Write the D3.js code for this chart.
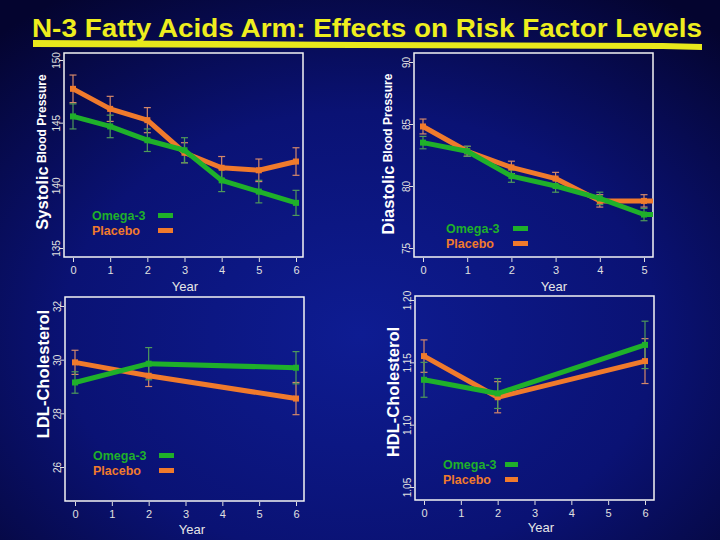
<!DOCTYPE html>
<html>
<head>
<meta charset="utf-8">
<script src="https://cdn.jsdelivr.net/npm/d3@7"></script>
<style>
  body { margin: 0; background: #03032e; }
  svg { display: block; font-family: "Liberation Sans", Arial, sans-serif; }
</style>
</head>
<body>
<div id="container"></div>
<script>
// values
var titleText = "N-3 Fatty Acids Arm: Effects on Risk Factor Levels";
var seriesNames = ["Omega-3", "Placebo"];

// systolic blood pressure
var sbpYears = [0, 1, 2, 3, 4, 5, 6];
var sbpOmega = [145.5, 144.7, 143.6, 142.8, 140.4, 139.5, 138.6];
var sbpOmegaErr = [1.0, 0.9, 0.9, 1.0, 0.9, 0.9, 1.0];
var sbpPlacebo = [147.7, 146.1, 145.2, 142.6, 141.4, 141.2, 141.9];
var sbpPlaceboErr = [1.1, 1.0, 1.0, 0.8, 0.9, 0.9, 1.1];
var sbpTicks = [135, 140, 145, 150];

// diastolic blood pressure (lines run on flat to the frame edge)
var dbpYears = [0, 1, 2, 3, 4, 5, 5.25];
var dbpOmega = [83.5, 82.8, 80.8, 80.0, 79.0, 77.7, 77.7];
var dbpOmegaErr = [0.5, 0.4, 0.5, 0.5, 0.5, 0.5, null];
var dbpPlacebo = [84.8, 82.8, 81.5, 80.6, 78.8, 78.8, 78.8];
var dbpPlaceboErr = [0.6, 0.4, 0.5, 0.5, 0.5, 0.5, null];
var dbpTicks = [75, 80, 85, 90];

// LDL cholesterol
var ldlYears = [0, 2, 6];
var ldlOmega = [29.15, 29.85, 29.7];
var ldlOmegaErr = [0.4, 0.6, 0.6];
var ldlPlacebo = [29.9, 29.4, 28.55];
var ldlPlaceboErr = [0.45, 0.4, 0.6];
var ldlTicks = [26, 28, 30, 32];

// HDL cholesterol
var hdlYears = [0, 2, 6];
var hdlOmega = [1.136, 1.125, 1.164];
var hdlOmegaErr = [0.014, 0.012, 0.019];
var hdlPlacebo = [1.155, 1.122, 1.151];
var hdlPlaceboErr = [0.013, 0.0125, 0.018];
var hdlTicks = [1.05, 1.10, 1.15, 1.20];

var green = "#1fb02a", orange = "#f07a2c";
var greenBar = "#4f9a5a", orangeBar = "#d4886a";

var svg = d3.select("div#container")
    .append("svg")
    .attr("width", 720)
    .attr("height", 540);

var defs = svg.append("defs");
var grad = defs.append("radialGradient")
    .attr("id", "bg")
    .attr("cx", "50%").attr("cy", "62%").attr("r", "75%");
grad.append("stop").attr("offset", "0%").attr("stop-color", "#0e1c92");
grad.append("stop").attr("offset", "55%").attr("stop-color", "#0a1274");
grad.append("stop").attr("offset", "100%").attr("stop-color", "#04042f");

svg.append("rect")
    .attr("width", 720).attr("height", 540)
    .attr("fill", "url(#bg)");

// title + brush underline
svg.append("text")
    .attr("x", 32).attr("y", 37)
    .attr("textLength", 670)
    .attr("lengthAdjust", "spacingAndGlyphs")
    .style("font-size", "26px")
    .style("font-weight", "bold")
    .style("fill", "#eeee1e")
    .text(titleText);

svg.append("path")
    .attr("d", "M33,40 L360,42 L663,43 L702,44 L702,50 L663,49 L360,48 L33,47 Z")
    .attr("fill", "#e8e81c");

function drawPanel(p) {
    var g = svg.append("g");

    var x = d3.scaleLinear().domain(p.xDomain).range(p.xRange);
    var y = d3.scaleLinear().domain(p.yDomain).range(p.yRange);

    var clipId = "clip" + p.id;
    defs.append("clipPath").attr("id", clipId)
        .append("rect")
        .attr("x", p.box[0]).attr("y", p.box[1])
        .attr("width", p.box[2] - p.box[0]).attr("height", p.box[3] - p.box[1]);

    // x axis below frame
    var xAxis = g.append("g")
        .attr("transform", "translate(0," + (p.box[3] + 1) + ")")
        .call(d3.axisBottom(x).tickValues(p.xTicks).tickSize(4).tickPadding(4).tickFormat(d3.format("d")));
    xAxis.select(".domain").remove();
    xAxis.selectAll("line").attr("stroke", "#e0e0e0");
    xAxis.selectAll("text")
        .attr("fill", "#e0e0e0")
        .style("font-size", "11px")
        .style("font-family", "Liberation Sans, Arial, sans-serif");

    // y axis left of frame, rotated labels
    var yAxis = g.append("g")
        .attr("transform", "translate(" + (p.box[0] - 1) + ",0)")
        .call(d3.axisLeft(y).tickValues(p.yTicks).tickSize(4).tickFormat(p.yFormat));
    yAxis.select(".domain").remove();
    yAxis.selectAll("line").attr("stroke", "#e0e0e0");
    yAxis.selectAll("text")
        .attr("fill", "#e0e0e0")
        .attr("x", 0).attr("y", 0).attr("dy", null)
        .attr("transform", "translate(-7,0) rotate(-90)")
        .attr("text-anchor", "middle")
        .attr("dominant-baseline", "central")
        .style("font-size", "10px")
        .style("font-family", "Liberation Sans, Arial, sans-serif");

    // frame
    g.append("rect")
        .attr("x", p.box[0]).attr("y", p.box[1])
        .attr("width", p.box[2] - p.box[0]).attr("height", p.box[3] - p.box[1])
        .attr("fill", "none")
        .attr("stroke", "#f4f4f4")
        .attr("stroke-width", 1.5);

    // x title
    g.append("text")
        .attr("x", p.xTitle[0]).attr("y", p.xTitle[1])
        .attr("text-anchor", "middle")
        .style("font-size", "13px")
        .style("fill", "#e6e6e6")
        .text("Year");

    // y title
    var yt = g.append("text")
        .attr("transform", "translate(" + p.yTitle[0] + "," + p.yTitle[1] + ") rotate(-90)")
        .attr("text-anchor", "middle")
        .attr("dominant-baseline", "central")
        .style("font-weight", "bold")
        .style("fill", "#ffffff");
    yt.append("tspan").style("font-size", p.yTitleSize + "px").text(p.yTitleMain);
    if (p.yTitleSub) {
        yt.append("tspan").style("font-size", "12px").text(" " + p.yTitleSub);
    }

    var plot = g.append("g").attr("clip-path", "url(#" + clipId + ")");

    var series = [
        { vals: p.placebo, err: p.placeboErr, color: orange, bar: orangeBar },
        { vals: p.omega, err: p.omegaErr, color: green, bar: greenBar }
    ];

    var line = d3.line()
        .x(function (d) { return x(d.year); })
        .y(function (d) { return y(d.v); });

    // error bars first, then lines
    series.forEach(function (s) {
        var pts = p.years.map(function (yr, i) { return { year: yr, v: s.vals[i], e: s.err[i] }; });
        var withErr = pts.filter(function (d) { return d.e != null; });
        var eb = plot.selectAll(null).data(withErr).enter().append("g")
            .attr("stroke", s.bar).attr("stroke-width", 1.2);
        eb.append("line")
            .attr("x1", function (d) { return x(d.year); })
            .attr("x2", function (d) { return x(d.year); })
            .attr("y1", function (d) { return y(d.v - d.e); })
            .attr("y2", function (d) { return y(d.v + d.e); });
        eb.append("line")
            .attr("x1", function (d) { return x(d.year) - 3.5; })
            .attr("x2", function (d) { return x(d.year) + 3.5; })
            .attr("y1", function (d) { return y(d.v + d.e); })
            .attr("y2", function (d) { return y(d.v + d.e); });
        eb.append("line")
            .attr("x1", function (d) { return x(d.year) - 3.5; })
            .attr("x2", function (d) { return x(d.year) + 3.5; })
            .attr("y1", function (d) { return y(d.v - d.e); })
            .attr("y2", function (d) { return y(d.v - d.e); });
        s.pts = pts;
    });

    series.forEach(function (s) {
        plot.append("path")
            .datum(s.pts)
            .attr("d", line)
            .attr("fill", "none")
            .attr("stroke", s.color)
            .attr("stroke-width", 5)
            .attr("stroke-linejoin", "round");
        plot.selectAll(null).data(s.pts.filter(function (d) { return d.e != null; }))
            .enter().append("rect")
            .attr("x", function (d) { return x(d.year) - 3; })
            .attr("y", function (d) { return y(d.v) - 3; })
            .attr("width", 6).attr("height", 6)
            .attr("fill", s.color);
    });

    // legend
    var lg = g.append("g").attr("transform", "translate(" + p.legend[0] + "," + p.legend[1] + ")");
    [green, orange].forEach(function (c, i) {
        lg.append("text")
            .attr("x", 0).attr("y", i * 15)
            .style("font-size", "12.5px")
            .style("font-weight", "bold")
            .style("fill", c)
            .text(seriesNames[i]);
        lg.append("line")
            .attr("x1", p.legendSample[0]).attr("x2", p.legendSample[1])
            .attr("y1", i * 15 - 4.5).attr("y2", i * 15 - 4.5)
            .attr("stroke", c)
            .attr("stroke-width", 5);
    });
}

drawPanel({
    id: 1, years: sbpYears,
    omega: sbpOmega, omegaErr: sbpOmegaErr, placebo: sbpPlacebo, placeboErr: sbpPlaceboErr,
    xDomain: [0, 6], xRange: [73, 296], xTicks: sbpYears,
    yDomain: [135, 150], yRange: [248, 60], yTicks: sbpTicks, yFormat: d3.format("d"),
    box: [64, 53, 303, 257],
    xTitle: [185, 291],
    yTitle: [42, 152], yTitleMain: "Systolic", yTitleSub: "Blood Pressure", yTitleSize: 16.5,
    legend: [92, 220], legendSample: [66, 81]
});

drawPanel({
    id: 2, years: dbpYears,
    omega: dbpOmega, omegaErr: dbpOmegaErr, placebo: dbpPlacebo, placeboErr: dbpPlaceboErr,
    xDomain: [0, 5], xRange: [423, 644], xTicks: [0, 1, 2, 3, 4, 5],
    yDomain: [75, 90], yRange: [248, 62], yTicks: dbpTicks, yFormat: d3.format("d"),
    box: [414, 53, 653, 257],
    xTitle: [554, 291],
    yTitle: [388, 154], yTitleMain: "Diastolic", yTitleSub: "Blood Pressure", yTitleSize: 16.5,
    legend: [446, 233], legendSample: [67, 82]
});

drawPanel({
    id: 3, years: ldlYears,
    omega: ldlOmega, omegaErr: ldlOmegaErr, placebo: ldlPlacebo, placeboErr: ldlPlaceboErr,
    xDomain: [0, 6], xRange: [75, 296], xTicks: [0, 1, 2, 3, 4, 5, 6],
    yDomain: [26, 32], yRange: [467, 306], yTicks: ldlTicks, yFormat: d3.format("d"),
    box: [65, 297, 304, 501],
    xTitle: [192, 534],
    yTitle: [43, 374], yTitleMain: "LDL-Cholesterol", yTitleSub: null, yTitleSize: 16.5,
    legend: [93, 460], legendSample: [66, 81]
});

drawPanel({
    id: 4, years: hdlYears,
    omega: hdlOmega, omegaErr: hdlOmegaErr, placebo: hdlPlacebo, placeboErr: hdlPlaceboErr,
    xDomain: [0, 6], xRange: [424, 645], xTicks: [0, 1, 2, 3, 4, 5, 6],
    yDomain: [1.05, 1.20], yRange: [487, 300], yTicks: hdlTicks, yFormat: d3.format(".2f"),
    box: [415, 296, 654, 500],
    xTitle: [541, 532],
    yTitle: [393, 392], yTitleMain: "HDL-Cholesterol", yTitleSub: null, yTitleSize: 16.5,
    legend: [443, 469], legendSample: [62, 75]
});
</script>
</body>
</html>
